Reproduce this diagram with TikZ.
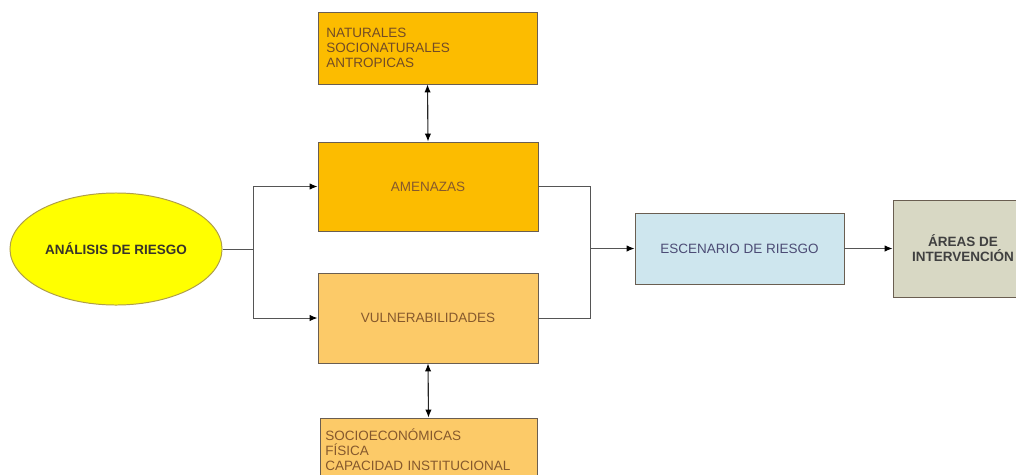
\documentclass[tikz,border=0pt]{standalone}
\usepackage{fontspec}
\setmainfont{Liberation Sans}
\usetikzlibrary{arrows.meta}
\usetikzlibrary{shapes.geometric}

\definecolor{amarillo}{RGB}{255,255,0}
\definecolor{naranja}{RGB}{252,188,0}
\definecolor{naranjaclaro}{RGB}{252,202,104}
\definecolor{celeste}{RGB}{206,230,238}
\definecolor{beige}{RGB}{216,216,196}
\definecolor{linea}{RGB}{85,85,85}

\begin{document}
\begin{tikzpicture}[x=0.025cm, y=-0.025cm,
    every node/.style={font=\fontsize{9.6}{10.7}\selectfont, inner sep=0pt},
    caja/.style={draw=linea!80!brown, line width=0.6pt, rectangle},
    conn/.style={draw=linea, line width=0.7pt},
    flecha/.style={conn, -{Latex[length=2mm, width=1.6mm, black]}},
    doble/.style={draw=black!85, line width=0.8pt, {Latex[length=2mm, width=1.6mm, black]}-{Latex[length=2mm, width=1.6mm, black]}}]
          \clip (0,0) rectangle (1016,474); % fixes the page

          \node [ellipse, draw=black!40!yellow!70!brown, line width=0.7pt, fill=amarillo,
                 minimum width=5.3cm, minimum height=2.8cm, font=\fontsize{9.6}{10.7}\selectfont\bfseries,
                 text=black!80!olive] (analisis) at (116,249) {ANÁLISIS DE RIESGO};

          \node [caja, fill=naranja, minimum width=5.475cm, minimum height=1.8cm,
                 text width=5.05cm, align=left, text=brown!60!black] (naturales) at (427.5,48)
                 {NATURALES\\SOCIONATURALES\\ANTROPICAS};
          \node [caja, fill=naranja, minimum width=5.5cm, minimum height=2.225cm,
                 text=brown!70!black] (amenazas) at (428,186.5) {AMENAZAS};

          \node [caja, fill=naranjaclaro, minimum width=5.5cm, minimum height=2.25cm,
                 text=brown!70!black] (vulner) at (428,318) {VULNERABILIDADES};
          \node [caja, fill=naranjaclaro, minimum width=5.425cm, minimum height=1.6cm,
                 text width=5.15cm, align=left, text=brown!70!black] (socioec) at (428.5,450)
                 {SOCIOECONÓMICAS\\FÍSICA\\CAPACIDAD INSTITUCIONAL};

          \node [caja, fill=celeste, minimum width=5.225cm, minimum height=1.775cm,
                 text=black!60!blue!40!gray] (escenario) at (739.5,248.5) {ESCENARIO DE RIESGO};
          \node [caja, fill=beige, minimum width=3.5cm, minimum height=2.425cm, align=center,
                 font=\fontsize{9.6}{10.7}\selectfont\bfseries, text=black!75] (areas) at (963,248.5)
                 {ÁREAS DE\\INTERVENCIÓN};

          % left split
          \coordinate (busl) at (253,249);
          \draw [conn] (analisis.east) -- (busl);
          \draw [flecha] (busl) |- (amenazas.west);
          \draw [flecha] (busl) |- (vulner.west);

          % right join
          \coordinate (busr) at (590,248.5);
          \draw [conn] (amenazas.east) -| (busr);
          \draw [conn] (vulner.east) -| (busr);
          \draw [flecha] (busr) -- (escenario.west);
          \draw [flecha] (escenario.east) -- (areas.west);

          \draw [doble] (naturales.south) -- (amenazas.north);
          \draw [doble] (vulner.south) -- (socioec.north);
        \end{tikzpicture}
\end{document}
